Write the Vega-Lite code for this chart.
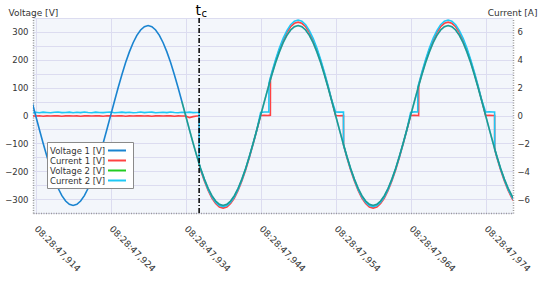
{
  "$schema": "https://vega.github.io/schema/vega-lite/v6.json",
  "width": 480,
  "height": 195,
  "autosize": {"type": "none"},
  "padding": {"left": 33, "top": 18, "right": 37, "bottom": 68},
  "background": "white",
  "config": {
    "font": "DejaVu Sans",
    "view": {"fill": "#f3f6fb", "stroke": null},
    "axis": {"labelOverlap": false, "labelFlush": false, "labelColor": "#333333", "labelFontSize": 8.5, "ticks": false, "tickSize": 0}
  },
  "datasets": {
    "w": [
      {"t":913.5,"v1":50.5,"i1":-0.03,"i2":0.21},
      {"t":914,"v1":0,"i1":-0.04,"i2":0.23},
      {"t":914.5,"v1":-50.5,"i1":-0.02,"i2":0.2},
      {"t":915,"v1":-99.8,"i1":-0.05,"i2":0.24},
      {"t":915.5,"v1":-146.6,"i1":-0.03,"i2":0.22},
      {"t":916,"v1":-189.9,"i1":-0.04,"i2":0.2},
      {"t":916.5,"v1":-228.4,"i1":-0.02,"i2":0.23},
      {"t":917,"v1":-261.3,"i1":-0.03,"i2":0.25},
      {"t":917.5,"v1":-287.8,"i1":-0.05,"i2":0.21},
      {"t":918,"v1":-307.2,"i1":-0.03,"i2":0.22},
      {"t":918.5,"v1":-319,"i1":-0.02,"i2":0.24},
      {"t":919,"v1":-323,"i1":-0.04,"i2":0.2},
      {"t":919.5,"v1":-319,"i1":-0.03,"i2":0.23},
      {"t":920,"v1":-307.2,"i1":-0.05,"i2":0.21},
      {"t":920.5,"v1":-287.8,"i1":-0.03,"i2":0.25},
      {"t":921,"v1":-261.3,"i1":-0.02,"i2":0.22},
      {"t":921.5,"v1":-228.4,"i1":-0.04,"i2":0.2},
      {"t":922,"v1":-189.9,"i1":-0.03,"i2":0.24},
      {"t":922.5,"v1":-146.6,"i1":-0.03,"i2":0.22},
      {"t":923,"v1":-99.8,"i1":-0.05,"i2":0.21},
      {"t":923.5,"v1":-50.5,"i1":-0.02,"i2":0.23},
      {"t":924,"v1":0,"i1":-0.03,"i2":0.25},
      {"t":924.5,"v1":50.5,"i1":-0.04,"i2":0.2},
      {"t":925,"v1":99.8,"i1":-0.03,"i2":0.22},
      {"t":925.5,"v1":146.6,"i1":-0.02,"i2":0.24},
      {"t":926,"v1":189.9,"i1":-0.05,"i2":0.21},
      {"t":926.5,"v1":228.4,"i1":-0.03,"i2":0.23},
      {"t":927,"v1":261.3,"i1":-0.04,"i2":0.2},
      {"t":927.5,"v1":287.8,"i1":-0.03,"i2":0.22},
      {"t":928,"v1":307.2,"i1":-0.02,"i2":0.25},
      {"t":928.5,"v1":319,"i1":-0.04,"i2":0.21},
      {"t":929,"v1":323,"i1":-0.03,"i2":0.23},
      {"t":929.5,"v1":319,"i1":-0.05,"i2":0.24},
      {"t":930,"v1":307.2,"i1":-0.03,"i2":0.2},
      {"t":930.5,"v1":287.8,"i1":-0.02,"i2":0.22},
      {"t":931,"v1":261.3,"i1":-0.04,"i2":0.23},
      {"t":931.5,"v1":228.4,"i1":-0.03,"i2":0.21},
      {"t":932,"v1":189.9,"i1":-0.03,"i2":0.25},
      {"t":932.5,"v1":146.6,"i1":-0.05,"i2":0.22},
      {"t":933,"v1":99.8,"i1":-0.03,"i2":0.2},
      {"t":933.5,"v1":50.5,"v2":50.5,"i1":-0.04,"i2":0.23},
      {"t":934,"v1":0,"v2":0,"i1":-0.04,"i2":0.22},
      {"t":934.5,"v1":-50.5,"v2":-50.5,"i1":-0.15,"i2":0.24},
      {"t":935,"v1":-99.8,"v2":-99.8,"i1":-0.08,"i2":0.21},
      {"t":935.5,"v1":-146.6,"v2":-146.6,"i1":-0.04,"i2":0.22},
      {"t":935.8,"v1":-173.1,"v2":-173.1,"i1":-0.04,"i2":0.22},
      {"t":935.81,"v1":-173.5,"v2":-173.5,"i1":-3.56,"i2":-3.51},
      {"t":936,"v1":-189.9,"v2":-189.9,"i1":-3.91,"i2":-3.85},
      {"t":936.5,"v1":-228.4,"v2":-228.4,"i1":-4.7,"i2":-4.63},
      {"t":937,"v1":-261.3,"v2":-261.3,"i1":-5.38,"i2":-5.3},
      {"t":937.5,"v1":-287.8,"v2":-287.8,"i1":-5.93,"i2":-5.84},
      {"t":938,"v1":-307.2,"v2":-307.2,"i1":-6.32,"i2":-6.23},
      {"t":938.5,"v1":-319,"v2":-319,"i1":-6.57,"i2":-6.47},
      {"t":939,"v1":-323,"v2":-323,"i1":-6.65,"i2":-6.55},
      {"t":939.5,"v1":-319,"v2":-319,"i1":-6.57,"i2":-6.47},
      {"t":940,"v1":-307.2,"v2":-307.2,"i1":-6.32,"i2":-6.23},
      {"t":940.5,"v1":-287.8,"v2":-287.8,"i1":-5.93,"i2":-5.84},
      {"t":941,"v1":-261.3,"v2":-261.3,"i1":-5.38,"i2":-5.3},
      {"t":941.5,"v1":-228.4,"v2":-228.4,"i1":-4.7,"i2":-4.63},
      {"t":942,"v1":-189.9,"v2":-189.9,"i1":-3.91,"i2":-3.85},
      {"t":942.5,"v1":-146.6,"v2":-146.6,"i1":-3.02,"i2":-2.97},
      {"t":943,"v1":-99.8,"v2":-99.8,"i1":-2.05,"i2":-2.02},
      {"t":943.5,"v1":-50.5,"v2":-50.5,"i1":-1.04,"i2":-1.02},
      {"t":944,"v1":0,"v2":0,"i1":0,"i2":0.22},
      {"t":944.5,"v1":50.5,"v2":50.5,"i1":0.02,"i2":0.25},
      {"t":945,"v1":99.8,"v2":99.8,"i1":0,"i2":0.27},
      {"t":945.1,"v1":109.4,"v2":109.4,"i1":0.01,"i2":0.25},
      {"t":945.11,"v1":109.9,"v2":109.9,"i1":0.01,"i2":2.32},
      {"t":945.3,"v1":128.3,"v2":128.3,"i1":0.02,"i2":2.72},
      {"t":945.31,"v1":128.6,"v2":128.6,"i1":2.66,"i2":2.73},
      {"t":945.5,"v1":146.6,"v2":146.6,"i1":3.04,"i2":3.11},
      {"t":946,"v1":189.9,"v2":189.9,"i1":3.94,"i2":4.03},
      {"t":946.5,"v1":228.4,"v2":228.4,"i1":4.74,"i2":4.84},
      {"t":947,"v1":261.3,"v2":261.3,"i1":5.42,"i2":5.54},
      {"t":947.5,"v1":287.8,"v2":287.8,"i1":5.97,"i2":6.1},
      {"t":948,"v1":307.2,"v2":307.2,"i1":6.37,"i2":6.52},
      {"t":948.5,"v1":319,"v2":319,"i1":6.62,"i2":6.77},
      {"t":949,"v1":323,"v2":323,"i1":6.7,"i2":6.85},
      {"t":949.5,"v1":319,"v2":319,"i1":6.62,"i2":6.77},
      {"t":950,"v1":307.2,"v2":307.2,"i1":6.37,"i2":6.52},
      {"t":950.5,"v1":287.8,"v2":287.8,"i1":5.97,"i2":6.1},
      {"t":951,"v1":261.3,"v2":261.3,"i1":5.42,"i2":5.54},
      {"t":951.5,"v1":228.4,"v2":228.4,"i1":4.74,"i2":4.84},
      {"t":952,"v1":189.9,"v2":189.9,"i1":3.94,"i2":4.03},
      {"t":952.5,"v1":146.6,"v2":146.6,"i1":3.04,"i2":3.11},
      {"t":953,"v1":99.8,"v2":99.8,"i1":2.07,"i2":2.12},
      {"t":953.5,"v1":50.5,"v2":50.5,"i1":1.05,"i2":1.07},
      {"t":954,"v1":0,"v2":0,"i1":0,"i2":0.25},
      {"t":954.5,"v1":-50.5,"v2":-50.5,"i1":-0.02,"i2":0.24},
      {"t":955,"v1":-99.8,"v2":-99.8,"i1":0,"i2":0.25},
      {"t":955.05,"v1":-104.6,"v2":-104.6,"i1":0,"i2":0.25},
      {"t":955.06,"v1":-104.9,"v2":-104.9,"i1":-2.15,"i2":-2.12},
      {"t":955.5,"v1":-146.6,"v2":-146.6,"i1":-3.02,"i2":-2.97},
      {"t":956,"v1":-189.9,"v2":-189.9,"i1":-3.91,"i2":-3.85},
      {"t":956.5,"v1":-228.4,"v2":-228.4,"i1":-4.7,"i2":-4.63},
      {"t":957,"v1":-261.3,"v2":-261.3,"i1":-5.38,"i2":-5.3},
      {"t":957.5,"v1":-287.8,"v2":-287.8,"i1":-5.93,"i2":-5.84},
      {"t":958,"v1":-307.2,"v2":-307.2,"i1":-6.32,"i2":-6.23},
      {"t":958.5,"v1":-319,"v2":-319,"i1":-6.57,"i2":-6.47},
      {"t":959,"v1":-323,"v2":-323,"i1":-6.65,"i2":-6.55},
      {"t":959.5,"v1":-319,"v2":-319,"i1":-6.57,"i2":-6.47},
      {"t":960,"v1":-307.2,"v2":-307.2,"i1":-6.32,"i2":-6.23},
      {"t":960.5,"v1":-287.8,"v2":-287.8,"i1":-5.93,"i2":-5.84},
      {"t":961,"v1":-261.3,"v2":-261.3,"i1":-5.38,"i2":-5.3},
      {"t":961.5,"v1":-228.4,"v2":-228.4,"i1":-4.7,"i2":-4.63},
      {"t":962,"v1":-189.9,"v2":-189.9,"i1":-3.91,"i2":-3.85},
      {"t":962.5,"v1":-146.6,"v2":-146.6,"i1":-3.02,"i2":-2.97},
      {"t":963,"v1":-99.8,"v2":-99.8,"i1":-2.05,"i2":-2.02},
      {"t":963.5,"v1":-50.5,"v2":-50.5,"i1":-1.04,"i2":-1.02},
      {"t":964,"v1":0,"v2":0,"i1":0,"i2":0.22},
      {"t":964.5,"v1":50.5,"v2":50.5,"i1":0.01,"i2":0.26},
      {"t":964.95,"v1":95,"v2":95,"i1":0,"i2":0.25},
      {"t":964.96,"v1":95.5,"v2":95.5,"i1":0,"i2":2.04},
      {"t":965,"v1":99.8,"v2":99.8,"i1":0.01,"i2":2.12},
      {"t":965.07,"v1":106.5,"v2":106.5,"i1":0,"i2":2.26},
      {"t":965.08,"v1":107,"v2":107,"i1":2.21,"i2":2.27},
      {"t":965.5,"v1":146.6,"v2":146.6,"i1":3.04,"i2":3.11},
      {"t":966,"v1":189.9,"v2":189.9,"i1":3.94,"i2":4.03},
      {"t":966.5,"v1":228.4,"v2":228.4,"i1":4.74,"i2":4.84},
      {"t":967,"v1":261.3,"v2":261.3,"i1":5.42,"i2":5.54},
      {"t":967.5,"v1":287.8,"v2":287.8,"i1":5.97,"i2":6.1},
      {"t":968,"v1":307.2,"v2":307.2,"i1":6.37,"i2":6.52},
      {"t":968.5,"v1":319,"v2":319,"i1":6.62,"i2":6.77},
      {"t":969,"v1":323,"v2":323,"i1":6.7,"i2":6.85},
      {"t":969.5,"v1":319,"v2":319,"i1":6.62,"i2":6.77},
      {"t":970,"v1":307.2,"v2":307.2,"i1":6.37,"i2":6.52},
      {"t":970.5,"v1":287.8,"v2":287.8,"i1":5.97,"i2":6.1},
      {"t":971,"v1":261.3,"v2":261.3,"i1":5.42,"i2":5.54},
      {"t":971.5,"v1":228.4,"v2":228.4,"i1":4.74,"i2":4.84},
      {"t":972,"v1":189.9,"v2":189.9,"i1":3.94,"i2":4.03},
      {"t":972.5,"v1":146.6,"v2":146.6,"i1":3.04,"i2":3.11},
      {"t":973,"v1":99.8,"v2":99.8,"i1":2.07,"i2":2.12},
      {"t":973.5,"v1":50.5,"v2":50.5,"i1":1.05,"i2":1.07},
      {"t":974,"v1":0,"v2":0,"i1":0,"i2":0.25},
      {"t":974.5,"v1":-50.5,"v2":-50.5,"i1":0.01,"i2":0.26},
      {"t":975,"v1":-99.8,"v2":-99.8,"i1":0,"i2":0.25},
      {"t":975.2,"v1":-118.9,"v2":-118.9,"i1":0,"i2":0.25},
      {"t":975.21,"v1":-119.3,"v2":-119.3,"i1":-2.45,"i2":-2.41},
      {"t":975.5,"v1":-146.6,"v2":-146.6,"i1":-3.02,"i2":-2.97},
      {"t":976,"v1":-189.9,"v2":-189.9,"i1":-3.91,"i2":-3.85},
      {"t":976.5,"v1":-228.4,"v2":-228.4,"i1":-4.7,"i2":-4.63},
      {"t":977,"v1":-261.3,"v2":-261.3,"i1":-5.38,"i2":-5.3},
      {"t":977.5,"v1":-287.8,"v2":-287.8,"i1":-5.93,"i2":-5.84},
      {"t":978,"v1":-307.2,"v2":-307.2,"i1":-6.32,"i2":-6.23}
    ],
    "tc": [{"t": 935.8, "top": 350}]
  },
  "layer": [
    {
      "data": {"name": "w"},
      "transform": [
        {"fold": ["i1", "i2"], "as": ["s", "val"]},
        {"filter": "isValid(datum.val)"}
      ],
      "mark": {"type": "line", "strokeWidth": 1.6, "clip": true},
      "encoding": {
        "x": {
          "field": "t", "type": "quantitative",
          "scale": {"domain": [913.65, 977.65], "nice": false, "zero": false},
          "axis": {
            "orient": "bottom", "title": null,
            "values": [914, 919, 924, 929, 934, 939, 944, 949, 954, 959, 964, 969, 974],
            "labelExpr": "datum.value % 10 == 4 ? '08:28:47,' + datum.value : ''",
            "labelAngle": 45, "labelAlign": "left", "labelBaseline": "middle",
            "labelPadding": 14, "labelFontSize": 9, "labelColor": "#333333",
            "labelFlush": false, "labelOverlap": false, "labelBound": false,
            "ticks": false, "tickSize": 0,
            "domainColor": "#9a9a9a", "domainDash": [1, 1.5], "domainWidth": 1.5,
            "grid": true, "gridColor": "#dcdcf0", "gridWidth": 1
          }
        },
        "y": {
          "field": "val", "type": "quantitative",
          "scale": {"domain": [-7, 7], "nice": false, "zero": false},
          "axis": {
            "orient": "right",
            "values": [-7, -6, -5, -4, -3, -2, -1, 0, 1, 2, 3, 4, 5, 6, 7],
            "labelExpr": "datum.value % 2 == 0 ? datum.label : ''",
            "labelOverlap": false, "labelFlush": false,
            "labelColor": "#333333",
            "labelFontSize": 8.5, "labelPadding": 4, "labelAlign": "left",
            "ticks": false, "tickSize": 0,
            "grid": true, "gridColor": "#dcdcf0", "gridWidth": 1,
            "domainColor": "#9a9a9a", "domainDash": [1, 1.5], "domainWidth": 1.5,
            "title": "Current [A]", "titleAngle": 0, "titleAlign": "right",
            "titleBaseline": "middle", "titleX": 24, "titleY": -6,
            "titleFontSize": 9, "titleFontWeight": "normal", "titleColor": "#333333"
          }
        },
        "color": {
          "field": "s", "type": "nominal",
          "scale": {"domain": ["v1", "i1", "v2", "i2"], "range": ["#1a84d0", "#ff4242", "#22cc22", "#1ec8f5"]},
          "legend": {
            "orient": "none", "legendX": 14, "legendY": 124, "title": null,
            "labelExpr": "datum.value == 'v1' ? 'Voltage 1 [V]' : datum.value == 'i1' ? 'Current 1 [V]' : datum.value == 'v2' ? 'Voltage 2 [V]' : 'Current 2 [V]'",
            "symbolType": "M-2,0H2", "symbolSize": 81, "symbolStrokeWidth": 2,
            "symbolFillColor": "transparent",
            "rowPadding": 0,
            "labelFontSize": 8.5, "labelColor": "#333333",
            "labelOffset": -72.5, "symbolOffset": 61.5,
            "padding": 3, "fillColor": "white", "strokeColor": "#8a8a8a"
          }
        }
      }
    },
    {
      "data": {"name": "w"},
      "transform": [
        {"fold": ["v1", "v2"], "as": ["s", "val"]},
        {"filter": "isValid(datum.val)"}
      ],
      "mark": {"type": "line", "strokeWidth": 1.6, "clip": true},
      "encoding": {
        "x": {"field": "t", "type": "quantitative"},
        "y": {
          "field": "val", "type": "quantitative",
          "scale": {"domain": [-350, 350], "nice": false, "zero": false},
          "axis": {
            "orient": "left",
            "values": [-300, -200, -100, 0, 100, 200, 300],
            "labelOverlap": false, "labelFlush": false,
            "labelColor": "#333333",
            "labelFontSize": 8.5, "labelPadding": 5,
            "ticks": false, "tickSize": 0,
            "grid": false,
            "domainColor": "#9a9a9a", "domainDash": [1, 1.5], "domainWidth": 1.5,
            "title": "Voltage [V]", "titleAngle": 0, "titleAlign": "left",
            "titleBaseline": "middle", "titleX": -25, "titleY": -6,
            "titleFontSize": 9, "titleFontWeight": "normal", "titleColor": "#333333"
          }
        },
        "color": {
          "field": "s", "type": "nominal",
          "scale": {"domain": ["v1", "i1", "v2", "i2"], "range": ["#1a84d0", "#ff4242", "#22cc22", "#1ec8f5"]}
        },
        "opacity": {
          "field": "s", "type": "nominal",
          "scale": {"domain": ["v1", "v2"], "range": [1, 0.35]},
          "legend": null
        }
      }
    },
    {
      "data": {"name": "tc"},
      "mark": {"type": "rule", "color": "black", "strokeWidth": 1.5, "strokeDash": [5, 2, 1, 2]},
      "encoding": {"x": {"field": "t", "type": "quantitative"}}
    },
    {
      "data": {"name": "tc"},
      "mark": {"type": "text", "text": "t", "fontSize": 14, "align": "center", "baseline": "alphabetic", "dy": -3, "dx": -1, "color": "black", "clip": false},
      "encoding": {
        "x": {"field": "t", "type": "quantitative"},
        "y": {"field": "top", "type": "quantitative", "scale": {"domain": [-350, 350], "nice": false, "zero": false}, "axis": null}
      }
    },
    {
      "data": {"name": "tc"},
      "mark": {"type": "text", "text": "c", "fontSize": 10, "align": "center", "baseline": "alphabetic", "dy": -1, "dx": 5, "color": "black", "clip": false},
      "encoding": {
        "x": {"field": "t", "type": "quantitative"},
        "y": {"field": "top", "type": "quantitative", "scale": {"domain": [-350, 350], "nice": false, "zero": false}, "axis": null}
      }
    }
  ],
  "resolve": {"scale": {"y": "independent"}}
}
